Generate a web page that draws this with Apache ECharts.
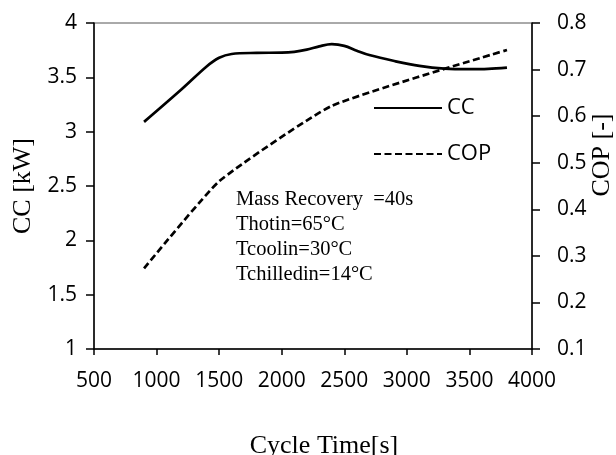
<!DOCTYPE html>
<html>
<head>
<meta charset="utf-8">
<script src="https://cdn.jsdelivr.net/npm/echarts@6/dist/echarts.min.js"></script>
<style>
html,body{margin:0;padding:0;background:#fff;}
#chart{width:616px;height:455px;}
</style>
</head>
<body>
<div id="chart"></div>
<script>
// Cycle time [s] and capacity CC [kW]
var ccTime  = [900, 1200, 1400, 1500, 1600, 1800, 2000, 2100, 2200, 2300, 2400, 2500, 2600, 2700, 2900, 3100, 3300, 3500, 3650, 3800];
var ccValue = [3.09, 3.39, 3.60, 3.68, 3.715, 3.725, 3.727, 3.735, 3.755, 3.785, 3.805, 3.79, 3.745, 3.705, 3.65, 3.605, 3.58, 3.575, 3.578, 3.59];
// Cycle time [s] and COP [-]
var copTime  = [900, 1500, 2400, 3800];
var copValue = [0.273, 0.46, 0.622, 0.742];
// Axis ticks
var xTicks = [500, 4000, 500];      // min, max, interval
var ccTicks = [1, 4, 0.5];
var copTicks = [0.1, 0.8, 0.1];
var noteLines = ['Mass Recovery  =40s', 'Thotin=65\u00b0C', 'Tcoolin=30\u00b0C', 'Tchilledin=14\u00b0C'];
var copTitle = 'COP [-]';

function pairs(xs, ys) { return xs.map(function (x, i) { return [x, ys[i]]; }); }

var sans = '"Open Sans", sans-serif';
var serif = '"Liberation Serif", "Times New Roman", serif';

var chart = echarts.init(document.getElementById('chart'), null, {renderer: 'canvas'});
chart.setOption({
  animation: false,
  backgroundColor: '#fff',
  grid: {left: 94, right: 84, top: 23, bottom: 106, containLabel: false, outerBoundsMode: 'none',
    show: true, borderColor: '#555', borderWidth: 1, backgroundColor: 'transparent'},
  legend: {
    data: ['CC', 'COP'],
    orient: 'vertical',
    left: 368, top: 92,
    itemWidth: 68, itemHeight: 20, itemGap: 24, itemTextGap: 6,
    itemStyle: {opacity: 0},
    textStyle: {fontFamily: sans, fontSize: 22, color: '#000'}
  },
  xAxis: {
    type: 'value', min: xTicks[0], max: xTicks[1], interval: xTicks[2],
    name: 'Cycle Time[s]', nameLocation: 'middle', nameGap: 84,
    nameTextStyle: {fontFamily: serif, fontSize: 26, color: '#000', padding: [0, 0, 0, 22]},
    axisLine: {lineStyle: {color: '#000', width: 1.5}},
    axisTick: {show: true, length: 6, lineStyle: {color: '#000', width: 1.5}},
    axisLabel: {fontFamily: sans, fontSize: 21, color: '#000', margin: 22,
      formatter: function (v) { return String(v); }},
    splitLine: {show: false}
  },
  yAxis: [{
    type: 'value', min: ccTicks[0], max: ccTicks[1], interval: ccTicks[2],
    name: 'CC [kW]', nameLocation: 'middle', nameGap: 55,
    nameTextStyle: {fontFamily: serif, fontSize: 26, color: '#000'},
    axisLine: {show: true, lineStyle: {color: '#000', width: 1.5}},
    axisTick: {show: true, length: 8, lineStyle: {color: '#000', width: 1.5}},
    axisLabel: {fontFamily: sans, fontSize: 21, color: '#000', margin: 17},
    splitLine: {show: false}
  }, {
    type: 'value', min: copTicks[0], max: copTicks[1], interval: copTicks[2],
    position: 'right',
    axisLine: {show: true, lineStyle: {color: '#000', width: 1.5}},
    axisTick: {show: true, length: 8, lineStyle: {color: '#000', width: 1.5}},
    axisLabel: {fontFamily: sans, fontSize: 21, color: '#000', margin: 25,
      formatter: function (v) { return (Math.round(v * 10) / 10).toFixed(1); }},
    splitLine: {show: false}
  }],
  series: [{
    name: 'CC', type: 'line', yAxisIndex: 0,
    data: pairs(ccTime, ccValue),
    smooth: 0.35, symbol: 'none',
    lineStyle: {color: '#000', width: 2.7, type: 'solid'},
    itemStyle: {color: '#000'}
  }, {
    name: 'COP', type: 'line', yAxisIndex: 1,
    data: pairs(copTime, copValue),
    smooth: 0.15, symbol: 'none',
    lineStyle: {color: '#000', width: 2.7, type: [7, 3.5]},
    itemStyle: {color: '#000'}
  }],
  graphic: [{
    type: 'text', left: 236, top: 187,
    style: {text: noteLines.join('\n'), fontFamily: serif, fontSize: 20.5, lineHeight: 25, fill: '#000'}
  }, {
    type: 'text', x: 602, y: 155, rotation: Math.PI / 2,
    style: {text: copTitle, fontFamily: serif, fontSize: 26, fill: '#000', align: 'center', verticalAlign: 'middle'}
  }]
});
</script>
</body>
</html>
